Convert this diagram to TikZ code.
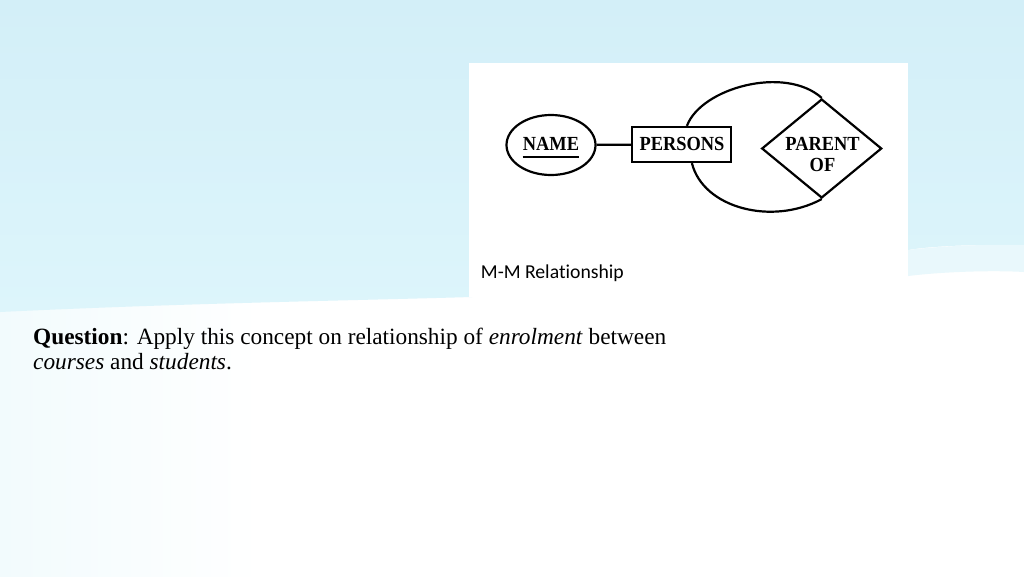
\documentclass[tikz,border=0pt]{standalone}
\usepackage{fontspec}
\setmainfont{Liberation Serif}
\newfontfamily\capfont[Ligatures=NoCommon]{Carlito}
\usetikzlibrary{shapes.geometric}
\definecolor{skytop}{HTML}{D3EFF8}
\definecolor{skybot}{HTML}{DDF5FB}
\definecolor{skyband}{HTML}{E9F8FC}
\definecolor{skywash}{HTML}{F2FBFD}
\tikzset{
  erline/.style={line width=2.2pt, black},
  erfont/.style={font=\fontsize{20}{22}\selectfont\bfseries, xscale=0.92, inner sep=0pt},
  erent/.style={draw, erline, rectangle, inner sep=0pt, minimum width=99pt, minimum height=35pt},
  erattr/.style={draw, erline, ellipse, inner sep=0pt, minimum width=89pt, minimum height=60pt},
  errel/.style={draw, erline, diamond, inner sep=0pt, minimum width=120pt, minimum height=99pt},
  qtext/.style={font=\fontsize{23.3}{26}\selectfont, anchor=base west, inner sep=0pt}
}
\begin{document}
\begin{tikzpicture}[x=1pt, y=-1pt]
\useasboundingbox (0,0) rectangle (1024,576);
% background
\fill[white] (0,0) rectangle (1024,576);
\shade[left color=skywash, right color=white] (0,300) rectangle (260,576);
\shade[top color=skytop, bottom color=skybot]
  (0,0) -- (1024,0) -- (1024,245) .. controls (980,244) and (930,246) .. (908,250)
  -- (600,292) .. controls (450,300) and (250,300) .. (0,312) -- cycle;
\fill[skyband] (908,250) .. controls (940,246) and (990,244) .. (1024,245)
  -- (1024,272) .. controls (990,270) and (940,272) .. (908,276) -- cycle;
% picture panel
\fill[white] (469,63) rectangle (908,297);
% ER diagram
\node[erattr] (name) at (551,145) {};
\node[erfont, anchor=base] (nametxt) at (551,150) {NAME};
\draw[line width=1.6pt] ([yshift=-6.7pt]nametxt.base west) -- ([yshift=-6.7pt]nametxt.base east);
\node[erent] (persons) at (681.5,144.5) {};
\node[erfont, anchor=base] (personstxt) at (682,150) {PERSONS};
\node[errel] (parent) at (821.7,148.5) {};
\node[erfont, align=center, anchor=base] (parenttxt) at (822.5,171.7) {PARENT\\[-0.3pt]OF};
\draw[erline] (name) -- (persons);
\draw[erline] ([xshift=56pt]persons.north west) .. controls (701,88) and (785,65) .. (parent.north);
\draw[erline] ([xshift=61pt]persons.south west) .. controls (703,208) and (772,226) .. (parent.south);
\node[font=\capfont\fontsize{19.7}{22}\selectfont, anchor=base west, inner sep=0pt] (cap) at (480.7,278.3) {M-M Relationship};
% question
\node[qtext] (q1) at (33,344.5) {\textbf{Question}: Apply this concept on relationship of \textit{enrolment} between};
\node[qtext] (q2) at (33,369.5) {\textit{courses} and \textit{students}.};
\end{tikzpicture}
\end{document}
